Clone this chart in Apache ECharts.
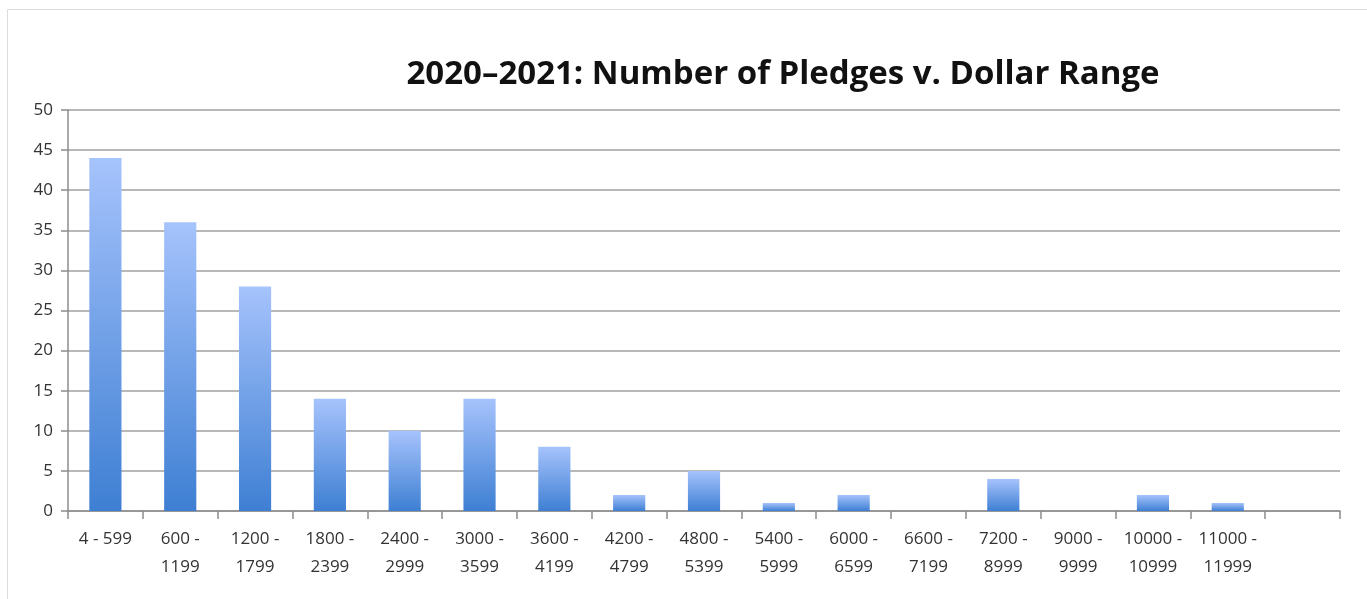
<!DOCTYPE html>
<html>
<head>
<meta charset="utf-8">
<script src="https://cdn.jsdelivr.net/npm/echarts@6/dist/echarts.min.js"></script>
<style>
  html, body { margin: 0; padding: 0; background: #ffffff; }
  #chart { width: 1367px; height: 599px; }
</style>
</head>
<body>
<div id="chart"></div>
<script>
const TITLE = '2020–2021: Number of Pledges v. Dollar Range'

// dollar ranges; the last slot is left empty like in the original
const categories = [
  '4 - 599', '600 -\n1199', '1200 -\n1799', '1800 -\n2399', '2400 -\n2999',
  '3000 -\n3599', '3600 -\n4199', '4200 -\n4799', '4800 -\n5399', '5400 -\n5999',
  '6000 -\n6599', '6600 -\n7199', '7200 -\n8999', '9000 -\n9999', '10000 -\n10999',
  '11000 -\n11999', ''
]

const pledges = [44, 36, 28, 14, 10, 14, 8, 2, 5, 1, 2, 0, 4, 0, 2, 1, null]

const yTicks = [0, 5, 10, 15, 20, 25, 30, 35, 40, 45, 50]

const FONT = '"Open Sans", "Noto Sans", sans-serif'

const chart = echarts.init(document.getElementById('chart'))

chart.setOption({
  backgroundColor: '#ffffff',
  animation: false,
  title: {
    text: TITLE,
    left: 778,
    top: 53,
    textAlign: 'center',
    textStyle: {
      color: '#111111',
      fontSize: 33,
      fontWeight: 700,
      fontFamily: FONT
    }
  },
  graphic: [
    {
      type: 'rect',
      shape: { x: 7.5, y: 9.5, width: 1400, height: 620 },
      style: { fill: 'none', stroke: '#dcdcdc', lineWidth: 1 },
      silent: true
    }
  ],
  grid: {
    left: 68,
    right: 27,
    top: 110,
    bottom: 88
  },
  xAxis: {
    type: 'category',
    data: categories,
    boundaryGap: true,
    axisLine: { lineStyle: { color: '#8c8c8c', width: 1.5 } },
    axisTick: { show: true, length: 8, lineStyle: { color: '#8c8c8c', width: 1.5 } },
    axisLabel: {
      interval: 0,
      color: '#333333',
      fontSize: 17,
      fontFamily: FONT,
      lineHeight: 28,
      margin: 14,
      align: 'center'
    }
  },
  yAxis: {
    type: 'value',
    min: yTicks[0],
    max: yTicks[yTicks.length - 1],
    interval: 5,
    axisLine: { show: true, lineStyle: { color: '#8c8c8c', width: 1.5 } },
    axisTick: { show: true, length: 7, lineStyle: { color: '#8c8c8c', width: 1.5 } },
    axisLabel: {
      color: '#333333',
      fontSize: 17,
      fontFamily: FONT,
      margin: 15
    },
    splitLine: { lineStyle: { color: '#a0a0a0', width: 1.5 } }
  },
  series: [
    {
      type: 'bar',
      data: pledges,
      barWidth: '43%',
      itemStyle: {
        color: new echarts.graphic.LinearGradient(0, 0, 0, 1, [
          { offset: 0, color: '#a6c3fc' },
          { offset: 1, color: '#3e7fd3' }
        ])
      }
    }
  ]
})
</script>
</body>
</html>
